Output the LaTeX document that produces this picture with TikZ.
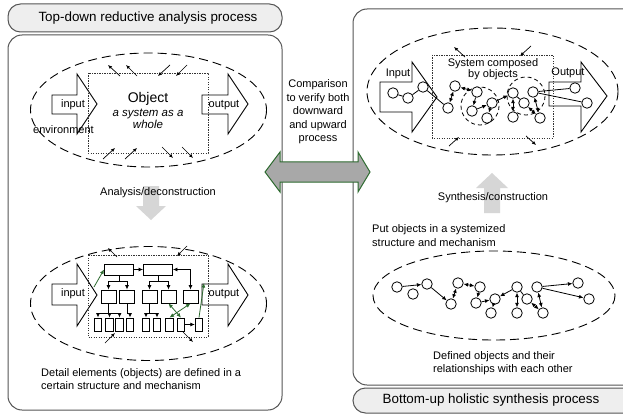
\documentclass[tikz,border=0pt]{standalone}
\usepackage{fontspec}
\setmainfont{Liberation Sans}
\usetikzlibrary{arrows.meta}

\definecolor{panelline}{HTML}{555555}
\definecolor{titlefill}{HTML}{EEEEEE}
\definecolor{linkgreen}{HTML}{2E6B30}
\definecolor{bigarrow}{HTML}{A8A8A8}
\definecolor{flowarrow}{HTML}{D6D6D6}

% block arrow pointing right: x0, shaft top, shaft bottom, head base x, head top, head bottom, tip x, tip y
\newcommand{\blockarrowpath}[8]{(#1,#2) -- (#4,#2) -- (#4,#5) -- (#7,#8) -- (#4,#6) -- (#4,#3) -- (#1,#3) -- cycle}

\begin{document}
\begin{tikzpicture}[x=1pt,y=-1pt,
  every node/.style={font=\fontsize{11}{13}\selectfont, inner sep=0pt},
  titletext/.style={font=\fontsize{13.4}{16}\selectfont},
  panel/.style={draw=panelline, line width=1pt, rounded corners=14pt, fill=white},
  titlebox/.style={draw=panelline, line width=1pt, rounded corners=12.5pt, fill=titlefill},
  envellipse/.style={draw, line width=0.9pt, dash pattern=on 9pt off 5pt},
  subsys/.style={draw, line width=0.8pt, dash pattern=on 4pt off 3pt},
  sysbox/.style={draw=black!80, line width=0.9pt, dash pattern=on 1.2pt off 1.3pt},
  shapearrow/.style={draw, line width=0.9pt, fill=white},
  sarrow/.style={line width=0.7pt, -{Latex[length=4pt,width=3.5pt]}},
  conn/.style={line width=0.8pt, -{Latex[length=4.5pt,width=4pt]}},
  biconn/.style={line width=0.8pt, {Latex[length=4.5pt,width=4pt]}-{Latex[length=4.5pt,width=4pt]}},
  plainconn/.style={line width=0.8pt},
  greenconn/.style={line width=0.8pt, draw=linkgreen, -{Latex[length=4.5pt,width=4pt,fill=linkgreen]}},
  greenbiconn/.style={line width=0.8pt, draw=linkgreen, {Latex[length=4.5pt,width=4pt,fill=linkgreen]}-{Latex[length=4.5pt,width=4pt,fill=linkgreen]}},
  unitwide/.style={draw, line width=0.9pt, fill=white, minimum width=29pt, minimum height=11pt},
  unitmid/.style={draw, line width=0.9pt, fill=white, minimum width=15pt, minimum height=13pt},
  unitsmall/.style={draw, line width=0.9pt, fill=white, minimum width=7.5pt, minimum height=13pt},
  obj/.style={circle, draw, line width=0.8pt, fill=white, minimum size=10.5pt, inner sep=0pt},
]
\useasboundingbox (0,0) rectangle (623,414);

% ---------------- panels ----------------
\draw[titlebox] (8,4) rectangle (282,32);
\node[titletext] (titleL) at (148,18) {Top-down reductive analysis process};
\draw[panel] (8,35) rectangle (282,410);

\draw[panel] (353,9) rectangle (650,385);
\draw[titlebox] (353,388) rectangle (650,413);
\node[titletext] (titleR) at (491,400.5) {Bottom-up holistic synthesis process};

% ---------------- comparison between the two processes ----------------
\node[align=center, font=\fontsize{11}{13.5}\selectfont] (compare) at (318,112)
  {Comparison\\to verify both\\downward\\and upward\\process};
\draw[draw=linkgreen, line width=1pt, fill=bigarrow]
  (265,172) -- (280,152) -- (280,162) -- (358,162) -- (358,152) -- (370,172)
  -- (358,192) -- (358,182) -- (280,182) -- (280,192) -- cycle;

% ---------------- left: system as a whole ----------------
\draw[envellipse] (148.5,110) ellipse [x radius=118, y radius=57];
\draw[shapearrow] \blockarrowpath{52}{95}{114}{77}{74}{134}{97}{104};
\draw[shapearrow] \blockarrowpath{202}{95}{114}{228}{74}{134}{248}{104};
\draw[sysbox] (88,73) rectangle (208,153);
\node (inL) at (73,105) {input};
\node (outL) at (224,105) {output};
\node[font=\fontsize{14}{16}\selectfont] (objL) at (148,99) {Object};
\node[align=center, font=\fontsize{11.5}{12.5}\selectfont\itshape] (wholeL) at (148,119) {a system as a\\whole};
\node[anchor=west] (envL) at (33,130) {environment};
\draw[sarrow] (120,76) -- (108,65);
\draw[sarrow] (137,76) -- (126,65);
\draw[sarrow] (170,65) -- (158,76);
\draw[sarrow] (187,65) -- (176,76);
\draw[sarrow] (103,159) -- (115,148);
\draw[sarrow] (125,159) -- (137,148);
\draw[sarrow] (162,147) -- (173,158);
\draw[sarrow] (182,147) -- (193,158);

% analysis step
\fill[flowarrow] (143,186) -- (159,186) -- (159,206) -- (166,206) -- (151,220)
  -- (136,206) -- (143,206) -- cycle;
\node (analysis) at (158,193) {Analysis/deconstruction};

% ---------------- left: decomposed structure ----------------
\draw[envellipse] (148.5,303.5) ellipse [x radius=118, y radius=57];
\draw[shapearrow] \blockarrowpath{52}{284}{305}{77}{264}{326}{97}{295};
\draw[shapearrow] \blockarrowpath{202}{284}{305}{228}{264}{326}{248}{295};
\draw[sysbox] (88,255) rectangle (208,337);
\node (inL2) at (73,294) {input};
\node (outL2) at (224,294) {output};

\node[unitwide] (ua) at (119,269.5) {};
\node[unitwide] (ub) at (158,269.5) {};
\node[unitmid] (b1) at (108.5,296.5) {};
\node[unitmid] (b2) at (127,296.5) {};
\node[unitmid] (b3) at (149.5,296.5) {};
\node[unitmid] (b4) at (168.5,296.5) {};
\node[unitmid] (b5) at (190.5,296.5) {};
\node[unitsmall] (c1) at (98,324.5) {};
\node[unitsmall] (c2) at (109.5,324.5) {};
\node[unitsmall] (c3) at (119.5,324.5) {};
\node[unitsmall] (c4) at (130,324.5) {};
\node[unitsmall] (c5) at (146,324.5) {};
\node[unitsmall] (c6) at (157,324.5) {};
\node[unitsmall] (c7) at (169.5,324.5) {};
\node[unitsmall] (c8) at (181,324.5) {};
\node[unitsmall] (c9) at (199,324.5) {};

\draw[conn] (ua) -- (ub);
\draw[biconn] (ub.east) -| (b5.north);
\draw[conn] (ua.south) -- ++(0,6) -| (b1.north);
\draw[conn] (ua.south) -- ++(0,6) -| (b2.north);
\draw[conn] (ub.south) -- ++(0,6) -| (b3.north);
\draw[conn] (ub.south) -- ++(0,6) -| (b4.north);
\draw[conn] (b1.south) -- ++(0,10) -| (c1.north);
\draw[conn] (b1.south) -- ++(0,10) -| (c2.north);
\draw[conn] (b1.south) -- ++(0,10) -| (c3.north);
\draw[conn] (b2.south) -- ++(0,10) -| (c4.north);
\draw[conn] (b3.south) -- ++(0,10) -| (c5.north);
\draw[conn] (b3.south) -- ++(0,10) -| (c6.north);
\draw[conn] (c8) -- (c9);
\draw[greenbiconn] (b4.south) -- (c8.north);
\draw[greenbiconn] (b5.south) -- (c7.north);
\coordinate (inTip) at (94,287);
\coordinate (outEdge) at (204,283);
\draw[greenconn] (inTip) -- (ua.west);
\draw[greenconn] (c9.north) -- (outEdge);

\draw[sarrow] (117,257) -- (108,248);
\draw[sarrow] (187,246) -- (177,256);
\draw[sarrow] (105,343) -- (115,333);
\draw[sarrow] (183,332) -- (193,342);

\node[anchor=west, align=left] (detail) at (41,379.5)
  {Detail elements (objects) are defined in a\\certain structure and mechanism};

% ---------------- right: synthesized system ----------------
\draw[envellipse] (492.5,91.5) ellipse [x radius=125.5, y radius=63.5];
\draw[shapearrow] \blockarrowpath{380}{82}{112}{412}{62}{132}{437}{97};
\draw[shapearrow] \blockarrowpath{549}{82}{106}{581}{62}{132}{607}{96};
\draw[sysbox] (432,55) rectangle (553,138);
\draw[subsys] (480,106) circle [radius=19];
\draw[subsys] (526,96) circle [radius=19];
\node (inR) at (398,74) {Input};
\node (outR) at (568,73) {Output};
\node[align=center, font=\fontsize{11}{11}\selectfont] (sysR) at (493,69) {System composed\\by objects};

\draw[sarrow] (465,57) -- (454,47);
\draw[sarrow] (531,46) -- (520,56);
\draw[sarrow] (449,146) -- (459,137);
\draw[sarrow] (526,136) -- (536,145);

\node[obj] (A) at (393,93) {};
\node[obj] (B) at (408,98) {};
\node[obj] (C) at (423,87) {};
\node[obj] (D) at (448,108) {};
\node[obj] (E) at (455,86) {};
\node[obj] (F) at (477,92) {};
\node[obj] (G) at (472,111) {};
\node[obj] (H) at (492,103) {};
\node[obj] (I) at (487,118) {};
\node[obj] (J) at (513,93) {};
\node[obj] (K) at (524,103) {};
\node[obj] (L) at (533,92) {};
\node[obj] (M) at (513,117) {};
\node[obj] (N) at (540,118) {};
\node[obj] (O) at (575,88) {};
\node[obj] (P) at (587,103) {};

\draw[plainconn] (A) -- (B);
\draw[plainconn] (B) -- (C);
\draw[plainconn] (C) -- (D);
\draw[biconn] (D) -- (E);
\draw[biconn] (E) -- (F);
\draw[conn] (F) -- (G);
\draw[conn] (G) -- (H);
\draw[conn] (H) -- (I);
\draw[conn] (H) -- (J);
\draw[biconn] (J) -- (M);
\draw[plainconn] (J) -- (K);
\draw[biconn] (K) -- (N);
\draw[biconn] (L) -- (N);
\draw[plainconn] (L) -- (O);
\draw[plainconn] (L) -- (P);

% synthesis step
\fill[flowarrow] (484,213) -- (500,213) -- (500,188) -- (508,188) -- (492,173)
  -- (476,188) -- (484,188) -- cycle;
\node (synthesis) at (493,198) {Synthesis/construction};

\node[anchor=west, align=left, font=\fontsize{11}{14}\selectfont] (putobj) at (372,235.5)
  {Put objects in a systemized\\structure and mechanism};

% ---------------- right: defined objects ----------------
\draw[envellipse] (494,295.5) ellipse [x radius=121, y radius=44.5];

\node[obj] (a) at (397,287) {};
\node[obj] (b) at (413,294) {};
\node[obj] (c) at (427,284) {};
\node[obj] (d) at (451,304) {};
\node[obj] (e) at (458,283) {};
\node[obj] (f) at (476,303) {};
\node[obj] (g) at (480,287) {};
\node[obj] (h) at (491,313) {};
\node[obj] (i) at (495,299) {};
\node[obj] (j) at (517,287) {};
\node[obj] (k) at (527,299) {};
\node[obj] (l) at (517,313) {};
\node[obj] (m) at (537,287) {};
\node[obj] (n) at (543,313) {};
\node[obj] (o) at (578,283) {};
\node[obj] (p) at (589,299) {};

\draw[conn] (a) -- (c);
\draw[conn] (c) -- (d);
\draw[biconn] (d) -- (e);
\draw[biconn] (e) -- (g);
\draw[conn] (g) -- (f);
\draw[conn] (f) -- (i);
\draw[conn] (i) -- (h);
\draw[conn] (j) -- (i);
\draw[biconn] (j) -- (l);
\draw[plainconn] (j) -- (k);
\draw[biconn] (k) -- (n);
\draw[biconn] (m) -- (n);
\draw[conn] (m) -- (o);
\draw[conn] (m) -- (p);

\node[anchor=west, align=left] (defined) at (433,363.5)
  {Defined objects and their\\relationships with each other};
\end{tikzpicture}
\end{document}
